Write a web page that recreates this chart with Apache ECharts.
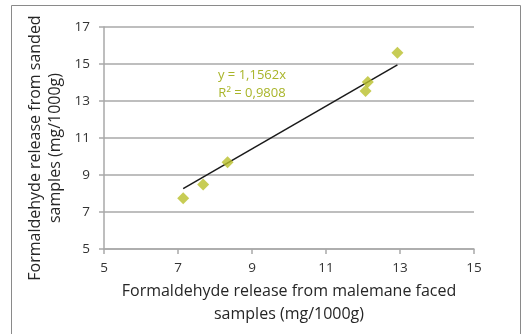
<!DOCTYPE html>
<html>
<head>
<meta charset="utf-8">
<script src="https://cdn.jsdelivr.net/npm/echarts@6/dist/echarts.min.js"></script>
<style>
  html, body { margin: 0; padding: 0; background: #fff; }
  #main { width: 522px; height: 334px; }
</style>
</head>
<body>
<div id="main"></div>
<script>
// measured points (malemane faced vs sanded)
const xValues = [7.14, 7.68, 8.34, 12.07, 12.13, 12.93];
const yValues = [7.74, 8.49, 9.69, 13.54, 14.03, 15.61];
// linear trendline y = 1,1562x drawn across the data range
const trendX = [7.14, 12.93];
const trendY = [8.26, 14.95];
const eqText = ["y = 1,1562x", "R\u00b2 = 0,9808"];

const xTitle = "Formaldehyde release from malemane faced\nsamples (mg/1000g)";
const yTitle = "Formaldehyde release from sanded\nsamples (mg/1000g)";

const font = "'Open Sans', sans-serif";
const gridColor = "#a9a9a9";
const markColor = "#b9bf2b";

const chart = echarts.init(document.getElementById("main"));

const points = xValues.map((x, i) => [x, yValues[i]]);
const trend = trendX.map((x, i) => [x, trendY[i]]);

chart.setOption({
  animation: false,
  textStyle: { fontFamily: font },
  grid: { left: 104, right: 48, top: 27, bottom: 85 },
  graphic: [
    {
      type: "rect",
      shape: { x: 11.5, y: 5.5, width: 509, height: 340 },
      style: { fill: "none", stroke: "#8a8a8a", lineWidth: 1 }
    },
    {
      type: "text",
      x: 252,
      y: 66,
      style: {
        text: eqText.join("\n"),
        fill: "#a9b52a",
        font: "13px " + font,
        lineHeight: 18,
        align: "center"
      }
    },
    {
      // y axis title, sits a bit lower than the plot centre
      type: "text",
      x: 45,
      y: 148,
      rotation: Math.PI / 2,
      style: {
        text: yTitle,
        fill: "#262626",
        font: "16px " + font,
        lineHeight: 20,
        align: "center",
        verticalAlign: "middle"
      }
    }
  ],
  xAxis: {
    type: "value",
    min: 5,
    max: 15,
    interval: 2,
    name: xTitle,
    nameLocation: "middle",
    nameGap: 31,
    nameTextStyle: { fontSize: 16, color: "#262626", lineHeight: 23 },
    axisLine: { show: true, lineStyle: { color: gridColor, width: 1.5 } },
    axisTick: { show: true, length: 5, lineStyle: { color: gridColor, width: 1.5 } },
    axisLabel: { fontSize: 13.5, color: "#333", margin: 12 },
    splitLine: { show: false }
  },
  yAxis: {
    type: "value",
    min: 5,
    max: 17,
    interval: 2,
    axisLine: { show: true, lineStyle: { color: gridColor, width: 1.5 } },
    axisTick: { show: true, length: 5, lineStyle: { color: gridColor, width: 1.5 } },
    axisLabel: { fontSize: 13.5, color: "#333", margin: 14 },
    splitLine: { show: true, lineStyle: { color: gridColor, width: 1.5 } }
  },
  series: [
    {
      type: "line",
      data: trend,
      symbol: "none",
      lineStyle: { color: "#1a1a1a", width: 1.5 },
      z: 3
    },
    {
      type: "scatter",
      data: points,
      symbol: "diamond",
      symbolSize: [12, 12],
      itemStyle: { color: markColor },
      z: 4
    }
  ]
});
</script>
</body>
</html>
